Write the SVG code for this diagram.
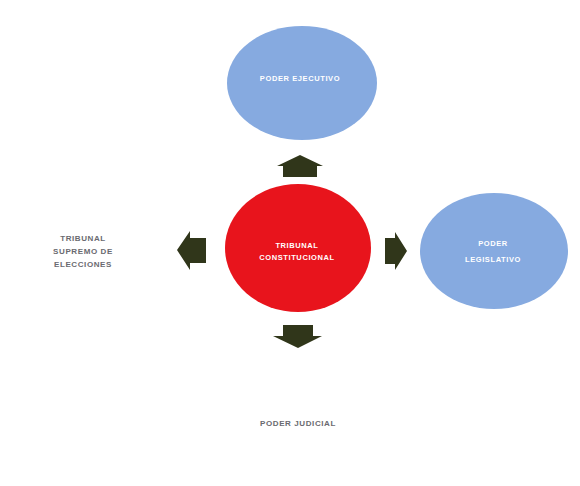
<svg xmlns="http://www.w3.org/2000/svg" width="580" height="486" viewBox="0 0 580 486">
<style>
.blue{fill:#86aae0}
.red{fill:#e8141c}
.arr{fill:#30361a}
.wt{font-family:"Liberation Sans",Arial,sans-serif;font-weight:bold;font-size:7.5px;fill:#ffffff;text-anchor:middle;letter-spacing:0.6px}
.gt{font-family:"Liberation Sans",Arial,sans-serif;font-weight:bold;font-size:8px;fill:#6a6a70;text-anchor:middle;letter-spacing:0.6px}
</style>
<rect width="580" height="486" fill="#ffffff"/>
<g id="ejecutivo">
<ellipse class="blue" cx="302" cy="83" rx="75" ry="57"/>
<text class="wt" x="300" y="81">PODER EJECUTIVO</text>
</g>
<g id="constitucional">
<ellipse class="red" cx="298" cy="248" rx="73" ry="64"/>
<text class="wt" x="297" y="248">TRIBUNAL</text>
<text class="wt" x="297" y="260">CONSTITUCIONAL</text>
</g>
<g id="legislativo">
<ellipse class="blue" cx="494" cy="251" rx="74" ry="58"/>
<text class="wt" x="493" y="246">PODER</text>
<text class="wt" x="493" y="262">LEGISLATIVO</text>
</g>
<g id="elecciones">
<text class="gt" x="83" y="241">TRIBUNAL</text>
<text class="gt" x="83" y="254">SUPREMO DE</text>
<text class="gt" x="83" y="267">ELECCIONES</text>
</g>
<g id="judicial">
<text class="gt" x="298" y="426">PODER JUDICIAL</text>
</g>
<g id="connectors">
<polygon class="arr" points="300,155 323,166 317,166 317,177 283,177 283,166 277,166"/>
<polygon class="arr" points="283,325 313,325 313,336 322,336 298,348 273,336 283,336"/>
<polygon class="arr" points="177,250 190,231 190,238 206,238 206,263 190,263 190,270"/>
<polygon class="arr" points="385,238 395,238 395,232 407,251 395,270 395,264 385,264"/>
</g>
</svg>
